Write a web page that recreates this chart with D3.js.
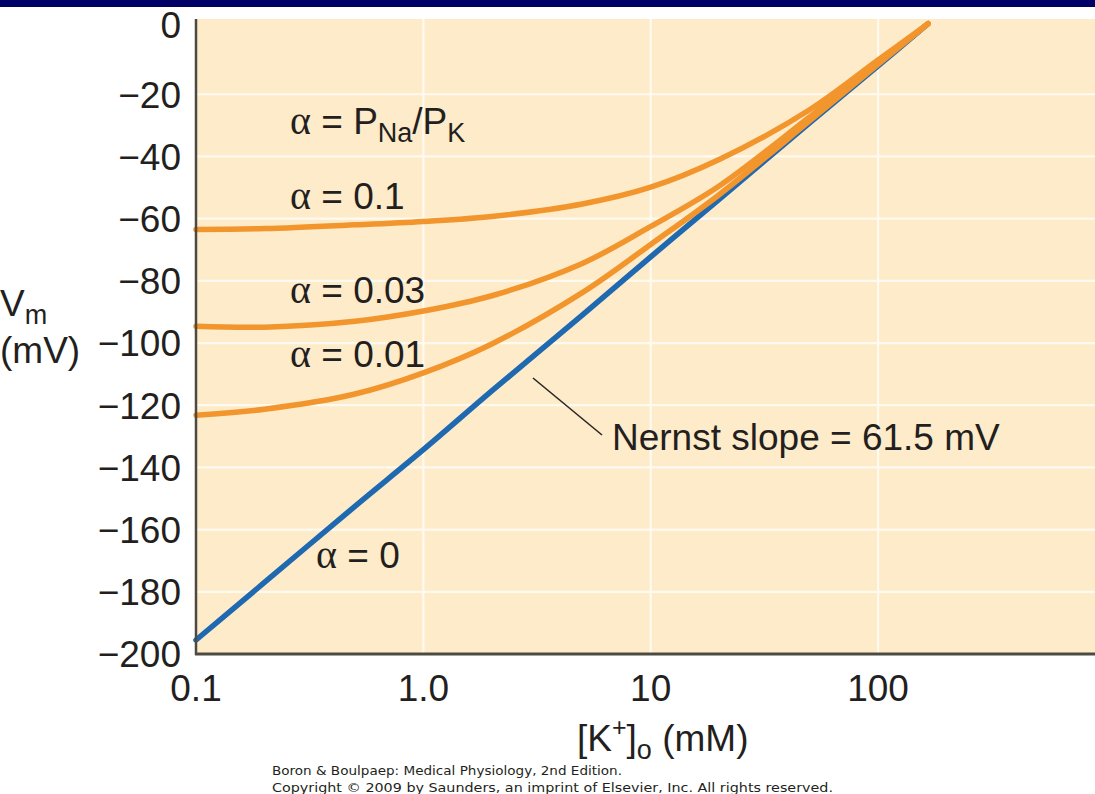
<!DOCTYPE html>
<html>
<head>
<meta charset="utf-8">
<script src="https://cdn.jsdelivr.net/npm/d3@7"></script>
<style>
  html, body { margin: 0; padding: 0; background: #fff; }
  svg { display: block; }
  text { font-family: "Liberation Sans", Arial, Helvetica, sans-serif; fill: #231f20; }
  .greek { font-family: "Liberation Serif", "Times New Roman", serif; }
  .credit { font-family: "DejaVu Sans", sans-serif; font-size: 13px; }
</style>
</head>
<body>
<svg id="chart" width="1095" height="794"></svg>
<script>
// [K+]o values (mM) at which the curves were read
const kValues = [0.1, 0.2, 0.5, 1, 2, 5, 10, 20, 50, 100, 166];

// Vm (mV) for each permeability ratio
const vmAlpha01 = [-63.5, -63.2, -62.0, -60.9, -59.3, -55.3, -49.9, -41.0, -25.0, -9.0, 2.7];
const vmAlpha003 = [-94.6, -94.9, -93.0, -89.7, -84.8, -74.4, -62.5, -49.5, -27.3, -10.0, 2.7];
const vmAlpha001 = [-123.2, -121.3, -116.4, -109.6, -100.3, -83.8, -68.3, -52.3, -28.6, -10.4, 2.7];
const vmAlpha0 = [-195.5, -177.0, -152.5, -134.3, -115.4, -91.0, -72.3, -53.8, -29.2, -10.9, 2.7];

const yTicks = [-200, -180, -160, -140, -120, -100, -80, -60, -40, -20, 0];
const xTicks = [0.1, 1, 10, 100];
const xTickLabels = ["0.1", "1.0", "10", "100"];

const width = 1095;
const height = 794;
const plot = { left: 196, right: 1095, top: 19, bottom: 654 };
const FONT = 37;

const ORANGE = "#f2952c";
const BLUE = "#1f69b1";
const BG = "#fdebc9";
const AXIS = "#4d4a42";

const svg = d3.select("#chart");

const x = d3.scaleLog().domain([0.1, 900]).range([plot.left, plot.right]);
const y = d3.scaleLinear().domain([-200, 4.2]).range([plot.bottom, plot.top]);

// top navy band
svg.append("rect")
  .attr("x", 0).attr("y", 0)
  .attr("width", width).attr("height", 7)
  .attr("fill", "#000066");

// plot background
svg.append("rect")
  .attr("x", plot.left).attr("y", plot.top)
  .attr("width", plot.right - plot.left).attr("height", plot.bottom - plot.top)
  .attr("fill", BG);

// grid
const grid = svg.append("g").attr("class", "grid")
  .attr("stroke", "#fffaf0").attr("stroke-width", 2.2);

grid.selectAll("line.h")
  .data(yTicks.filter((v) => v > -200 && v < 0))
  .join("line")
  .attr("class", "h")
  .attr("x1", plot.left).attr("x2", plot.right)
  .attr("y1", (v) => y(v)).attr("y2", (v) => y(v));

grid.selectAll("line.v")
  .data(xTicks.filter((k) => k > 0.1))
  .join("line")
  .attr("class", "v")
  .attr("x1", (k) => x(k)).attr("x2", (k) => x(k))
  .attr("y1", plot.top).attr("y2", plot.bottom);

// curves
const line = d3.line()
  .x((d) => x(d[0]))
  .y((d) => y(d[1]))
  .curve(d3.curveCatmullRom.alpha(0.5));

const series = [
  { name: "alpha0", values: vmAlpha0, color: BLUE },
  { name: "alpha001", values: vmAlpha001, color: ORANGE },
  { name: "alpha003", values: vmAlpha003, color: ORANGE },
  { name: "alpha01", values: vmAlpha01, color: ORANGE }
];

svg.append("g").attr("class", "curves")
  .selectAll("path")
  .data(series)
  .join("path")
  .attr("d", (s) => line(kValues.map((k, i) => [k, s.values[i]])))
  .attr("fill", "none")
  .attr("stroke", (s) => s.color)
  .attr("stroke-width", 5.5)
  .attr("stroke-linecap", "round")
  .attr("stroke-linejoin", "round");

// axes lines
svg.append("line")
  .attr("x1", plot.left).attr("x2", plot.left)
  .attr("y1", plot.top).attr("y2", plot.bottom + 1)
  .attr("stroke", AXIS).attr("stroke-width", 2.5);

svg.append("line")
  .attr("x1", plot.left - 1).attr("x2", plot.right)
  .attr("y1", plot.bottom).attr("y2", plot.bottom)
  .attr("stroke", AXIS).attr("stroke-width", 3);

// tick labels
const fmtY = (v) => (v < 0 ? "\u2212" + Math.abs(v) : String(v));

svg.append("g").attr("class", "y-ticks")
  .selectAll("text")
  .data(yTicks)
  .join("text")
  .attr("x", 181)
  .attr("y", (v) => y(v))
  .attr("dy", (v) => (v === 0 ? "0.15em" : "0.36em"))
  .attr("text-anchor", "end")
  .attr("font-size", FONT)
  .text(fmtY);

svg.append("g").attr("class", "x-ticks")
  .selectAll("text")
  .data(xTicks)
  .join("text")
  .attr("x", (k) => x(k))
  .attr("y", 701)
  .attr("text-anchor", "middle")
  .attr("font-size", FONT)
  .text((k, i) => xTickLabels[i]);

// axis titles
const yTitle = svg.append("text").attr("x", 0).attr("y", 316).attr("font-size", FONT);
yTitle.append("tspan").text("V");
yTitle.append("tspan").attr("font-size", 27).attr("dy", 8).text("m");
svg.append("text").attr("x", 0).attr("y", 363).attr("font-size", FONT).text("(mV)");

const xTitle = svg.append("text").attr("x", 577).attr("y", 751).attr("font-size", FONT);
xTitle.append("tspan").text("[K");
xTitle.append("tspan").attr("font-size", 25).attr("dy", -15).text("+");
xTitle.append("tspan").attr("dy", 15).text("]");
xTitle.append("tspan").attr("font-size", 27).attr("dy", 8).text("o");
xTitle.append("tspan").attr("dy", -8).text(" (mM)");

// annotations
function alphaLabel(px, py, rest) {
  const t = svg.append("text").attr("x", px).attr("y", py).attr("font-size", FONT);
  t.append("tspan").attr("class", "greek").attr("font-size", 40).text("\u03b1");
  t.append("tspan").text(" = " + rest);
  return t;
}

const head = alphaLabel(290, 134, "P");
head.append("tspan").attr("font-size", 27).attr("dy", 8).text("Na");
head.append("tspan").attr("dy", -8).text("/P");
head.append("tspan").attr("font-size", 27).attr("dy", 8).text("K");

alphaLabel(290, 209, "0.1");
alphaLabel(290, 303, "0.03");
alphaLabel(290, 367, "0.01");
alphaLabel(316, 568, "0");

svg.append("line")
  .attr("x1", 533).attr("y1", 378)
  .attr("x2", 602).attr("y2", 435)
  .attr("stroke", "#2a2622").attr("stroke-width", 1.6);

svg.append("text")
  .attr("x", 612).attr("y", 450)
  .attr("font-size", FONT)
  .text("Nernst slope = 61.5 mV");

// credit lines
svg.append("text").attr("class", "credit").attr("x", 272).attr("y", 775)
  .attr("textLength", 350).attr("lengthAdjust", "spacingAndGlyphs")
  .text("Boron & Boulpaep: Medical Physiology, 2nd Edition.");
svg.append("text").attr("class", "credit").attr("x", 272).attr("y", 792)
  .attr("textLength", 561).attr("lengthAdjust", "spacingAndGlyphs")
  .text("Copyright \u00a9 2009 by Saunders, an imprint of Elsevier, Inc. All rights reserved.");
</script>
</body>
</html>
